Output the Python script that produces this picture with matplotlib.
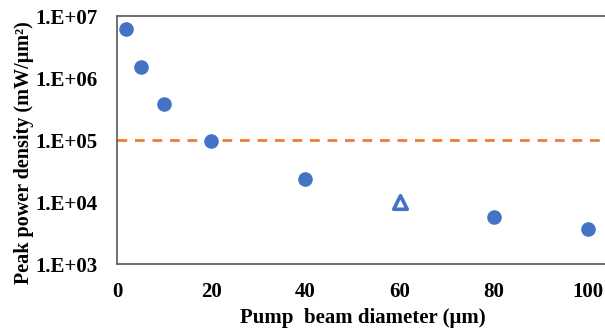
import math
import matplotlib
matplotlib.use("Agg")
import matplotlib.pyplot as plt
from matplotlib.ticker import FixedLocator, FuncFormatter

diam_circles = [2, 5, 10, 20, 40, 80, 100]
density_circles = [6.2e6, 1.5e6, 3.8e5, 9.6e4, 2.35e4, 5.8e3, 3.7e3]
diam_triangle = [60]
density_triangle = [1.0e4]
threshold = 1e5
x_ticks = [0, 20, 40, 60, 80, 100]
y_ticks = [1e3, 1e4, 1e5, 1e6, 1e7]

plt.rcParams['font.family'] = ['Liberation Serif', 'DejaVu Serif']
plt.rcParams['font.weight'] = 'bold'

fig = plt.figure(figsize=(6.05, 3.31), dpi=100)
ax = fig.add_axes([117/605, 1 - 264/331, (605-117)/605, (264-16)/331])

ax.axhline(threshold, color='#ED7D31', linestyle=(0, (3.5, 2.8)), linewidth=2, zorder=1)
ax.scatter(diam_circles, density_circles, s=110, color='#4472C4', zorder=3, linewidths=0)
ax.scatter(diam_triangle, density_triangle, s=95, marker='^', facecolor='white',
           edgecolor='#4472C4', linewidths=2.6, zorder=3)

ax.set_yscale('log')
ax.set_ylim(1e3, 1e7)
ax.set_xlim(0, 103.6)
ax.xaxis.set_major_locator(FixedLocator(x_ticks))
ax.yaxis.set_major_locator(FixedLocator(y_ticks))
ax.yaxis.set_minor_locator(FixedLocator([]))
ax.yaxis.set_major_formatter(FuncFormatter(lambda v, p: "1.E+%02d" % round(math.log10(v))))
ax.tick_params(length=0, labelsize=15)
ax.tick_params(axis='x', pad=13)
ax.tick_params(axis='y', pad=14)
for lab in ax.get_xticklabels() + ax.get_yticklabels():
    lab.set_fontweight('bold')

for s in ['left', 'bottom', 'top']:
    ax.spines[s].set_color('#595959')
    ax.spines[s].set_linewidth(1.2)
ax.spines['right'].set_visible(False)

ax.set_xlabel('Pump  beam diameter (μm)', fontsize=15, fontweight='bold', va='center', ha='center')
ax.xaxis.set_label_coords(0.504, -0.218)
ax.set_ylabel('Peak power density (mW/μm²)', fontsize=14.5, fontweight='bold', va='center', ha='center')
ax.yaxis.set_label_coords(-0.19, 0.448)

fig.savefig('out.png', dpi=100)
